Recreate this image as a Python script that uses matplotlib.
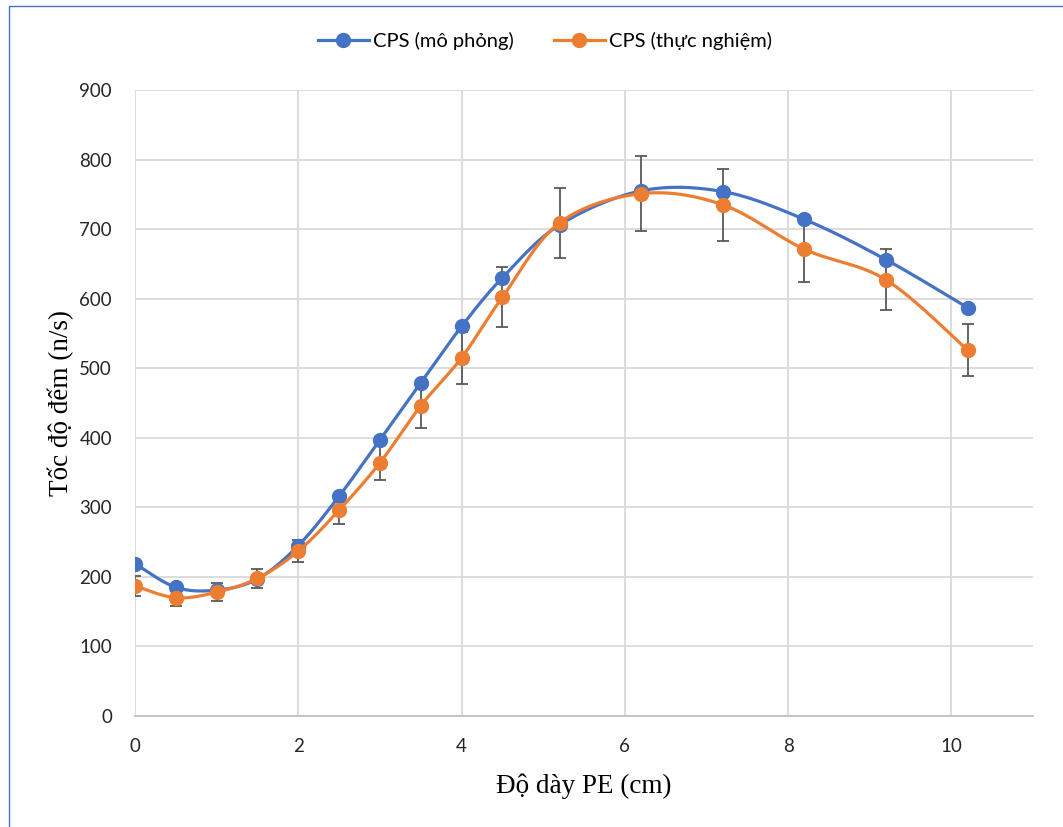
import numpy as np
import matplotlib
matplotlib.use("Agg")
import matplotlib.pyplot as plt
from matplotlib.lines import Line2D
from matplotlib.patches import Rectangle

# PE thickness (cm)
thickness = [0, 0.5, 1, 1.5, 2, 2.5, 3, 3.5, 4, 4.5, 5.2, 6.2, 7.2, 8.2, 9.2, 10.2]
# Count rate, simulation
cps_sim = [219, 185, 181, 197, 245, 316, 397, 479, 560, 630, 706, 755, 754, 714, 656, 587]
# Count rate, experiment, with uncertainty
cps_exp = [187, 170, 178, 198, 237, 296, 364, 446, 515, 602, 709, 751, 735, 671, 627, 526]
cps_exp_err = [14, 12, 13, 14, 16, 20, 25, 32, 37, 43, 50, 54, 52, 47, 44, 37]

series_labels = ["CPS (mô phỏng)", "CPS (thực nghiệm)"]
x_ticks = [0, 2, 4, 6, 8, 10]
y_ticks = [0, 100, 200, 300, 400, 500, 600, 700, 800, 900]

BLUE = "#4472C4"
ORANGE = "#ED7D31"
GRID = "#D9D9D9"
SANS = ["Lato", "DejaVu Sans"]
SERIF = ["Liberation Serif", "DejaVu Serif"]

fig = plt.figure(figsize=(10.63, 8.27), dpi=100)
ax = fig.add_axes([135 / 1063, 1 - 716 / 827, (1033 - 135) / 1063, (716 - 90) / 827])

ax.set_xlim(0, 11)
ax.set_ylim(0, 900)


def smooth_curve(ax, xs, ys, n=30):
    """Bezier smoothing through the points, computed in display space."""
    pts = ax.transData.transform(np.column_stack([xs, ys]))
    out = [pts[0]]
    m = len(pts)
    for i in range(m - 1):
        p0 = pts[i - 1] if i > 0 else pts[i]
        p1 = pts[i]
        p2 = pts[i + 1]
        p3 = pts[i + 2] if i + 2 < m else pts[i + 1]
        c1 = p1 + (p2 - p0) / 6.0
        c2 = p2 - (p3 - p1) / 6.0
        t = np.linspace(0, 1, n)[1:, None]
        seg = ((1 - t) ** 3) * p1 + 3 * ((1 - t) ** 2) * t * c1 + 3 * (1 - t) * t ** 2 * c2 + t ** 3 * p2
        out.extend(seg)
    out = np.array(out)
    data = ax.transData.inverted().transform(out)
    return data[:, 0], data[:, 1]


# error bars of the measured series, beneath the markers
ax.errorbar(thickness, cps_exp, yerr=cps_exp_err, fmt="none", ecolor="#595959",
            elinewidth=1.3, capsize=4.3, capthick=1.3, zorder=2)

for ys, col, z in [(cps_sim, BLUE, 3), (cps_exp, ORANGE, 4)]:
    sx, sy = smooth_curve(ax, thickness, ys)
    ax.plot(sx, sy, color=col, lw=2.3, zorder=z, solid_capstyle="round")
    ax.plot(thickness, ys, linestyle="none", marker="o", ms=10, color=col,
            markeredgecolor=col, zorder=z + 0.5)

ax.set_xticks(x_ticks)
ax.set_yticks(y_ticks)
ax.grid(True, color=GRID, lw=1.3)
ax.set_axisbelow(True)
ax.tick_params(axis="x", length=0, labelsize=13.5, pad=16)
ax.tick_params(axis="y", length=0, labelsize=13.5, pad=16.5)
for lbl in ax.get_xticklabels() + ax.get_yticklabels():
    lbl.set_family(SANS)
    lbl.set_color("#262626")
for s in ["top", "right", "left"]:
    ax.spines[s].set_visible(False)
ax.spines["bottom"].set_color("#BFBFBF")
ax.spines["bottom"].set_linewidth(1.3)

ax.set_xlabel("Độ dày PE (cm)", family=SERIF, fontsize=19.5, labelpad=13)
ax.set_ylabel("Tốc độ đếm (n/s)", family=SERIF, fontsize=19.5, labelpad=4)

handles = [Line2D([], [], color=BLUE, lw=2.3, marker="o", ms=10),
           Line2D([], [], color=ORANGE, lw=2.3, marker="o", ms=10)]
leg = fig.legend(handles, series_labels, loc="center", bbox_to_anchor=(0.5127, 0.950),
                 ncol=2, frameon=False, handlelength=2.53, columnspacing=2.0,
                 handletextpad=0.2, prop={"family": SANS, "size": 14.5})

# chart frame
fig.patches.append(Rectangle((9 / 1063, -0.1), 1.2, 1 - 6 / 827 + 0.1,
                             transform=fig.transFigure, fill=False,
                             edgecolor="#4472C4", lw=1.0))

fig.savefig("out.png", dpi=100)
